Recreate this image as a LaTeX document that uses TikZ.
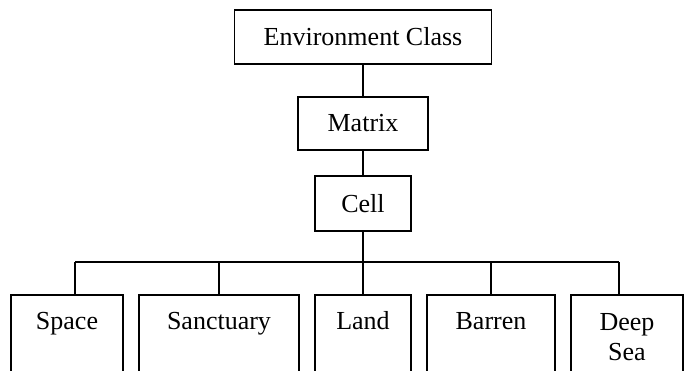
\documentclass[tikz,border=0pt]{standalone}
\usepackage{fontspec}
\setmainfont{Liberation Serif}
\begin{document}
\begin{tikzpicture}[x=0.02cm,y=-0.02cm,
  box/.style={draw,line width=1.1pt,inner sep=0pt,font=\fontsize{14.8}{17.6}\selectfont},
  leaf/.style={box,anchor=north,align=center,text height=0.7cm,text depth=3cm}]
\useasboundingbox (0,0) rectangle (690,370);
\clip (0,0) rectangle (690,370);
\node[box,minimum width=5.14cm,minimum height=1.08cm] (env) at (363,37) {Environment Class};
\node[box,minimum width=2.6cm,minimum height=1.06cm] (matrix) at (363,123.5) {Matrix};
\node[box,minimum width=1.92cm,minimum height=1.1cm] (cell) at (363,203.5) {Cell};
\node[leaf,minimum width=2.24cm] (space) at (67,294) {Space};
\node[leaf,minimum width=3.2cm] (sanct) at (219,294) {Sanctuary};
\node[leaf,minimum width=1.92cm] (land) at (363,294) {Land};
\node[leaf,minimum width=2.56cm] (barren) at (491,294) {Barren};
\node[leaf,minimum width=2.24cm,text height=1.32cm] (deep) at (627,294) {Deep\\Sea};
\coordinate (L) at (75,262);
\coordinate (R) at (619,262);
\begin{scope}[line width=1.1pt]
\draw (env.south) -- (matrix.north);
\draw (matrix.south) -- (cell.north);
\draw (cell.south) -- (land.north);
\draw (L) -- (R);
\draw (L) -- (L |- space.north);
\draw (R) -- (R |- deep.north);
\foreach \n in {sanct,barren}
	\draw (\n.north) -- (\n.north |- L);
\end{scope}
\end{tikzpicture}
\end{document}
